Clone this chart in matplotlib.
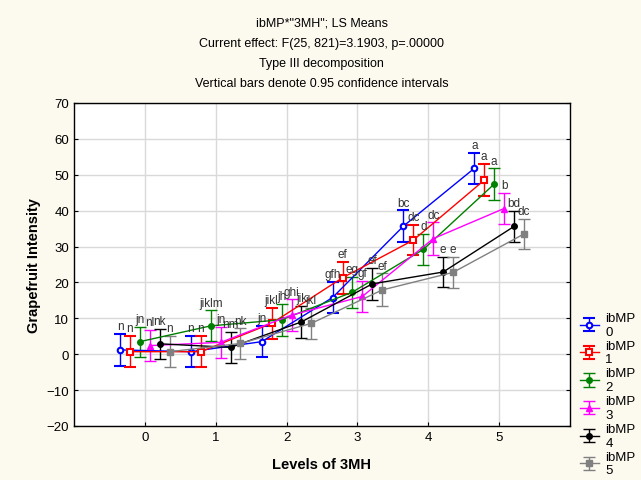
import matplotlib
matplotlib.use("Agg")
import matplotlib.pyplot as plt
import numpy as np

plt.rcParams['font.family'] = ['Liberation Sans', 'DejaVu Sans']

levels = [0, 1, 2, 3, 4, 5]
series = ["0", "1", "2", "3", "4", "5"]

# LS means per ibMP group, one value per level of 3MH
means = {
    "0": [1.2, 0.7, 3.5, 15.8, 35.7, 51.8],
    "1": [0.7, 0.7, 8.6, 21.3, 31.8, 48.5],
    "2": [3.5, 7.9, 9.6, 17.3, 29.2, 47.4],
    "3": [2.4, 3.3, 10.9, 16.1, 32.2, 40.6],
    "4": [2.9, 1.9, 9.0, 19.6, 22.9, 35.6],
    "5": [0.7, 3.0, 8.6, 17.9, 22.8, 33.5],
}
# half width of the 0.95 confidence interval
ci = {
    "0": [4.4, 4.4, 4.4, 4.3, 4.4, 4.3],
    "1": [4.3, 4.3, 4.4, 4.4, 4.2, 4.5],
    "2": [4.2, 4.3, 4.4, 4.3, 4.4, 4.4],
    "3": [4.4, 4.4, 4.4, 4.3, 4.5, 4.4],
    "4": [4.2, 4.3, 4.4, 4.4, 4.3, 4.3],
    "5": [4.3, 4.2, 4.3, 4.6, 4.3, 4.2],
}
letters = {
    "0": ["n", "n", "jn", "gfh", "bc", "a"],
    "1": ["n", "n", "jikl", "ef", "dc", "a"],
    "2": ["jn", "jiklm", "jh", "eg", "d", "a"],
    "3": ["nl", "jn", "ghi", "gf", "dc", "b"],
    "4": ["nk", "nm", "jik", "ef", "e", "bd"],
    "5": ["n", "nk", "jkl", "ef", "e", "dc"],
}

colors = ["#0000ff", "#ff0000", "#008000", "#ff00ff", "#000000", "#808080"]
markers = ["o", "s", "o", "^", "o", "s"]
offsets = [-0.35, -0.21, -0.07, 0.07, 0.21, 0.35]

bg = "#fcf9ef"
fig = plt.figure(figsize=(6.41, 4.81), dpi=100, facecolor=bg)
ax = fig.add_axes([0.1154, 0.1123, 0.7738, 0.6715])
ax.set_facecolor("white")

for i, s in enumerate(series):
    x = np.array(levels) + offsets[i]
    y = np.array(means[s])
    e = np.array(ci[s])
    mfc = "white" if i in (0, 1) else colors[i]
    ax.errorbar(x, y, yerr=e, color=colors[i], ecolor=colors[i], lw=1, elinewidth=1,
                capsize=4, capthick=1, marker=markers[i], ms=4, mfc=mfc, mec=colors[i],
                mew=1.5 if i in (0, 1) else 1, label="ibMP\n" + s, zorder=3)
    for xi, yi, ei, t in zip(x, y, e, letters[s]):
        ax.text(xi, yi + ei + 0.5, t, ha="center", va="bottom", fontsize=8.5,
                color="#333333", zorder=4)

ax.set_xlim(-1, 6)
ax.set_ylim(-20, 70)
ax.set_xticks(levels)
ax.set_yticks(np.arange(-20, 71, 10))
ax.grid(True, color="#d9d9d9", lw=1)
ax.set_axisbelow(True)
ax.tick_params(direction="in", right=True, labelsize=9.5, length=3)
for sp in ax.spines.values():
    sp.set_color("black")
    sp.set_linewidth(1)

ax.set_xlabel("Levels of 3MH", fontsize=10.5, fontweight="bold", labelpad=10)
ax.set_ylabel("Grapefruit Intensity", fontsize=10.5, fontweight="bold", labelpad=4)

title_lines = [
    'ibMP*"3MH"; LS Means',
    "Current effect: F(25, 821)=3.1903, p=.00000",
    "Type III decomposition",
    "Vertical bars denote 0.95 confidence intervals",
]
for k, line in enumerate(title_lines):
    fig.text(0.502, 1 - (24 + 20 * k) / 481, line, ha="center", va="center", fontsize=9)

leg = ax.legend(loc="upper left", bbox_to_anchor=(1.01, 0.37), frameon=False,
                fontsize=9.5, handlelength=1.4, handletextpad=0.5, labelspacing=0.15,
                borderaxespad=0)

fig.savefig("out.png", dpi=100, facecolor=bg)
